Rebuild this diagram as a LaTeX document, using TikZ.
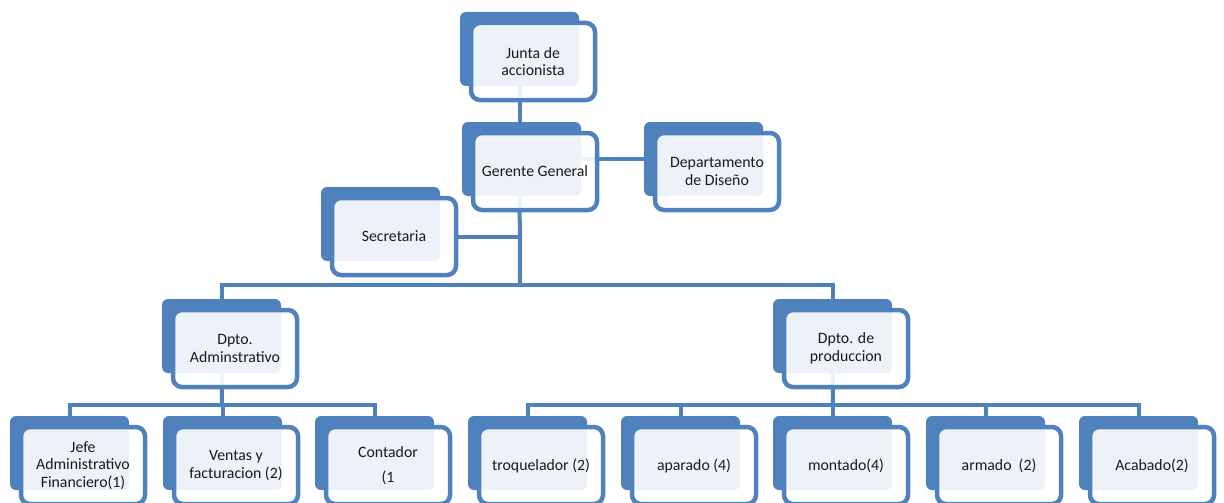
\documentclass[tikz,border=0pt]{standalone}
\usepackage{fontspec}
\setmainfont{Carlito}
\definecolor{ablue}{HTML}{4F81BD}
\definecolor{txtc}{HTML}{1A1A1A}
\tikzset{
  backbox/.style={fill=ablue, rounded corners=6, minimum width=119, minimum height=74, inner sep=0, outer sep=0},
  frontbox/.style={draw=ablue, line width=4.5, fill=white, fill opacity=0.9, rounded corners=9, minimum width=124, minimum height=77, inner sep=0, outer sep=0},
  txt/.style={text=txtc, align=center, font=\fontsize{15.8}{17.5}\selectfont, inner sep=0},
  conn/.style={draw=ablue, line width=4},
}
\newcommand\orgbox[4]{%
  \node[backbox] (b-#1) at (#2+59.5, -#3-37) {};
  \node[frontbox] (f-#1) at (#2+73, -#3-49.5) {};
  \node[txt] (t-#1) at (f-#1.center) {#4};
}
\newcommand\orgpos[3]{%
  \coordinate (p-#1) at (#2+59.5, -#3-37);
}
\begin{document}
\begin{tikzpicture}[x=1pt, y=1pt]
\useasboundingbox (0,0) rectangle (1224,-503);
% positions (back box centres) for connectors
\orgpos{junta}{460}{12}
\orgpos{gerente}{462}{122}
\orgpos{dep}{644}{122}
\orgpos{sec}{321}{187}
\orgpos{admin}{162}{299}
\orgpos{prod}{773}{299}
\orgpos{jefe}{10}{416}
\orgpos{ventas}{163}{416}
\orgpos{cont}{315}{416}
\orgpos{troq}{468}{416}
\orgpos{apar}{621}{416}
\orgpos{mont}{773}{416}
\orgpos{arm}{926}{416}
\orgpos{acab}{1079}{416}
\coordinate (j1) at (520,-285);
\coordinate (j2) at (222,-405);
\coordinate (j3) at (833,-405);
\coordinate (s1) at (458,-237);
% connectors
\draw[conn] (p-junta) -- (p-junta |- p-gerente);
\draw[conn] (p-gerente) -- (p-dep);
\draw[conn] (p-junta |- p-gerente) -- (j1);
\draw[conn] (s1) -- (s1 -| j1);
\draw[conn] (p-admin) |- (j1) -| (p-prod);
\draw[conn] (p-jefe) |- (j2) -| (p-cont);
\draw[conn] (p-admin) -- (j2);
\draw[conn] (p-ventas) -- (p-ventas |- j2);
\draw[conn] (p-troq) |- (j3) -| (p-acab);
\draw[conn] (p-prod) -- (j3);
\draw[conn] (p-apar) -- (p-apar |- j3);
\draw[conn] (p-mont) -- (p-mont |- j3);
\draw[conn] (p-arm) -- (p-arm |- j3);
% boxes
\orgbox{junta}{460}{12}{Junta de\\accionista}
\orgbox{gerente}{462}{122}{Gerente General}
\orgbox{dep}{644}{122}{Departamento\\de Diseño}
\orgbox{sec}{321}{187}{Secretaria}
\orgbox{admin}{162}{299}{Dpto.\\Adminstrativo}
\orgbox{prod}{773}{299}{Dpto. de\\produccion}
\orgbox{jefe}{10}{416}{Jefe\\Administrativo\\Financiero(1)}
\orgbox{ventas}{163}{416}{Ventas y\\facturacion (2)}
\orgbox{cont}{315}{416}{Contador\\[7.5pt](1}
\orgbox{troq}{468}{416}{troquelador (2)}
\orgbox{apar}{621}{416}{aparado (4)}
\orgbox{mont}{773}{416}{montado(4)}
\orgbox{arm}{926}{416}{armado\ \ (2)}
\orgbox{acab}{1079}{416}{Acabado(2)}
\end{tikzpicture}
\end{document}
